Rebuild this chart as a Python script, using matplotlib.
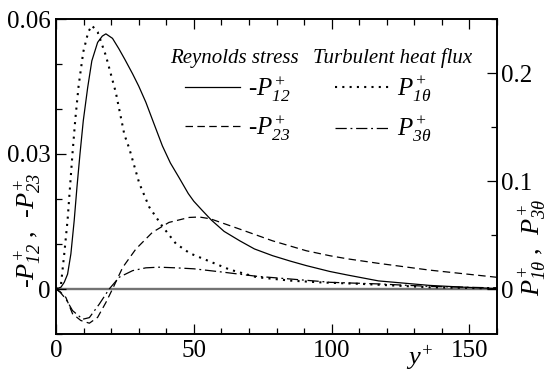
import matplotlib
matplotlib.use('Agg')
import matplotlib.pyplot as plt
import matplotlib.ticker as plticker

plt.rcParams['font.family'] = 'Liberation Serif'
# all math symbols in the reference are italic, digits included
plt.rcParams['mathtext.fontset'] = 'custom'
plt.rcParams['mathtext.rm'] = 'Liberation Serif:italic'
plt.rcParams['mathtext.it'] = 'Liberation Serif:italic'

# -P12+ (left axis)
yp_12 = [0, 1.8, 3.0, 4.2, 5.4, 6.6, 7.6, 8.7, 9.9, 11.5, 13.0, 15.1, 16.8, 18.1,
         20.5, 22.8, 25.0, 27.8, 30.0, 32.6, 35.5, 38.6, 41.5, 44.6, 48.0, 50.0,
         53.0, 56.4, 61.0, 66.7, 72.0, 78.6, 85.0, 90.8, 99.3, 105.8, 117.0,
         135.5, 148.0, 160.0]
p_12 = [0, 0.0004, 0.0015, 0.0033, 0.0078, 0.0152, 0.0226, 0.0300, 0.0374, 0.0448,
        0.0507, 0.0548, 0.0562, 0.0567, 0.0557, 0.0534, 0.0510, 0.0478, 0.0451,
        0.0415, 0.0368, 0.0318, 0.0280, 0.0248, 0.0212, 0.0195, 0.0175, 0.0153,
        0.0128, 0.0107, 0.0089, 0.0074, 0.0062, 0.0052, 0.0039, 0.0031, 0.0018,
        0.0008, 0.0004, 0.0001]

# -P23+ (left axis)
yp_23 = [0, 1.5, 3.6, 6.0, 9.0, 12.1, 15.1, 18.1, 20.5, 24.2, 29.0, 35.0, 41.0,
         48.3, 52.0, 56.0, 66.7, 78.6, 90.8, 99.3, 105.8, 117.0, 135.5, 160.0]
p_23 = [0, -0.0006, -0.0019, -0.0055, -0.0070, -0.0076, -0.0063, -0.0030, 0.0,
        0.0048, 0.0089, 0.0126, 0.0148, 0.0159, 0.0160, 0.0156, 0.0133, 0.0107,
        0.0085, 0.0074, 0.0067, 0.0057, 0.0042, 0.0026]

# P1theta+ (right axis)
yp_1t = [0, 1.8, 3.0, 4.2, 5.1, 6.0, 7.0, 8.2, 9.9, 11.7, 13.0, 15.1, 18.1, 21.7,
         24.8, 26.6, 30.2, 33.8, 38.6, 43.5, 48.6, 53.4, 63.0, 72.7, 84.8, 96.9,
         111.0, 135.5, 160.0]
p_1t = [0, 0.004, 0.0327, 0.0638, 0.095, 0.126, 0.157, 0.188, 0.2196, 0.238,
        0.244, 0.238, 0.216, 0.182, 0.143, 0.130, 0.098, 0.076, 0.058, 0.042,
        0.033, 0.028, 0.018, 0.011, 0.0078, 0.006, 0.0047, 0.0016, 0.0005]

# P3theta+ (right axis)
yp_3t = [0, 1.5, 3.6, 6.0, 9.7, 12.1, 15.7, 19.3, 23.0, 27.8, 32.6, 37.4, 43.5,
         50.0, 60.6, 72.7, 84.8, 96.9, 99.3, 117.0, 135.5, 160.0]
p_3t = [0, -0.003, -0.0093, -0.020, -0.028, -0.0265, -0.014, 0.0, 0.011, 0.017,
        0.0196, 0.0202, 0.0196, 0.0187, 0.0156, 0.0118, 0.0093, 0.0068, 0.0062,
        0.0047, 0.0024, 0.001]

fig = plt.figure(figsize=(5.47, 3.74), dpi=100)
ax = fig.add_axes([56 / 547, 1 - 334 / 374, 441 / 547, 315 / 374])
ax2 = ax.twinx()

ax.axhline(0, color='0.45', lw=1.7, zorder=1)
l12, = ax.plot(yp_12, p_12, color='k', lw=0.9, ls='-')
l23, = ax.plot(yp_23, p_23, color='k', lw=0.9, ls=(0, (6, 3.5)))
l1t, = ax2.plot(yp_1t, p_1t, color='k', lw=1.5, ls=(0, (1, 2.5)))
l3t, = ax2.plot(yp_3t, p_3t, color='k', lw=0.9, ls=(0, (9, 3, 1.5, 3)))

ax.set_xlim(0, 160)
ax.set_ylim(-0.01, 0.06)
ax2.set_ylim(-0.25 / 6, 0.25)

ax.xaxis.set_major_locator(plticker.MultipleLocator(50))
ax.xaxis.set_minor_locator(plticker.MultipleLocator(10))
ax.yaxis.set_major_locator(plticker.FixedLocator([0, 0.03, 0.06]))
ax.yaxis.set_minor_locator(plticker.MultipleLocator(0.01))
ax.yaxis.set_major_formatter(plticker.FuncFormatter(lambda v, p: '0' if abs(v) < 1e-9 else f'{v:.2f}'))
ax2.yaxis.set_major_locator(plticker.FixedLocator([0, 0.1, 0.2]))
ax2.yaxis.set_minor_locator(plticker.MultipleLocator(0.05))
ax2.yaxis.set_major_formatter(plticker.FuncFormatter(lambda v, p: '0' if abs(v) < 1e-9 else f'{v:.1f}'))

ax.tick_params(which='both', direction='in', top=True, right=False, labelsize=18, pad=4)
ax.tick_params(which='major', length=7, width=0.9)
ax.tick_params(which='minor', length=4, width=0.9)
ax2.tick_params(which='both', direction='in', labelsize=18, pad=3)
ax2.tick_params(which='major', length=7, width=0.9)
ax2.tick_params(which='minor', length=4, width=0.9)
for a in (ax, ax2):
    for s in a.spines.values():
        s.set_linewidth(1.2)

ax.set_ylabel('-$P^{+}_{12}$ ,  -$P^{+}_{23}$', fontsize=19)
ax.yaxis.set_label_coords(-0.03, 0.33)
ax2.set_ylabel('$P^{+}_{1\\theta}$ ,  $P^{+}_{3\\theta}$', fontsize=19)
ax2.yaxis.set_label_coords(1.045, 0.275)
ax.text(0.825, -0.03, '$y^{+}$', transform=ax.transAxes, fontsize=19, ha='center', va='top')

ttl = {'style': 'italic', 'size': 15}
ax.text((234 - 56) / 441, (334 - 58) / 315, 'Reynolds stress', transform=ax.transAxes,
        ha='center', va='center', fontdict=ttl)
ax.text((393 - 56) / 441, (334 - 58) / 315, 'Turbulent heat flux', transform=ax.transAxes,
        ha='center', va='center', fontdict=ttl)

common = dict(loc='upper center', frameon=False, fontsize=18, handlelength=2.2,
              handletextpad=0.3, labelspacing=0.4, borderpad=0, borderaxespad=0)
leg1 = ax.legend([l12, l23], ['-$P^{+}_{12}$', '-$P^{+}_{23}$'],
                 bbox_to_anchor=((238 - 56) / 441, (334 - 74) / 315), **common)
ax.add_artist(leg1)
leg2 = ax.legend([l1t, l3t], ['$P^{+}_{1\\theta}$', '$P^{+}_{3\\theta}$'],
                 bbox_to_anchor=((383 - 56) / 441, (334 - 74) / 315), **common)

fig.savefig('out.png', dpi=100)
